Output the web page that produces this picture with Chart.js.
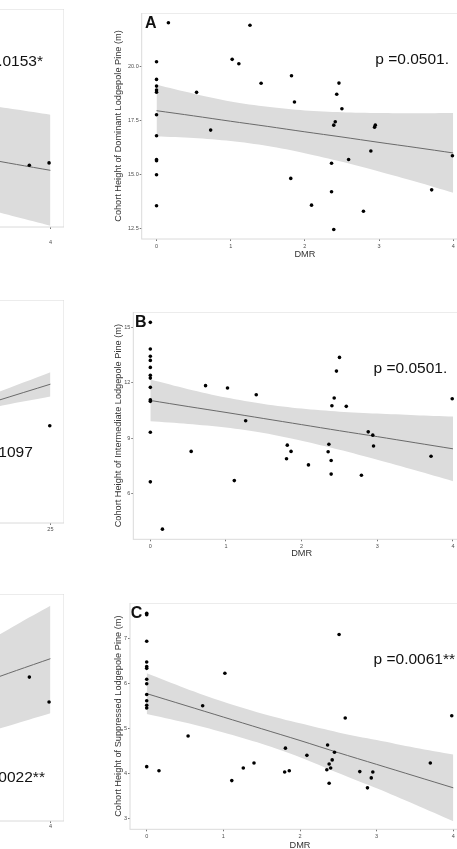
<!DOCTYPE html>
<html>
<head>
<meta charset="utf-8">
<script src="https://cdn.jsdelivr.net/npm/chart.js@4.4.1/dist/chart.umd.min.js"></script>
<style>
  html, body { margin: 0; padding: 0; background: #fff; }
  body { position: relative; width: 457px; height: 849px; overflow: hidden; }
  .panel { position: absolute; }
  .panel canvas { display: block; }
</style>
</head>
<body>
<div class="panel" id="p-lt"><canvas></canvas></div>
<div class="panel" id="p-lm"><canvas></canvas></div>
<div class="panel" id="p-lb"><canvas></canvas></div>
<div class="panel" id="p-a"><canvas></canvas></div>
<div class="panel" id="p-b"><canvas></canvas></div>
<div class="panel" id="p-c"><canvas></canvas></div>
<script>
// ---- data ----
const dmrTicks = [0, 1, 2, 3, 4];
const fitX = [0, 0.5, 1, 1.5, 2, 2.5, 3, 3.5, 4];

// A: dominant cohort
const dmrA = [0.16, 1.26, 0, 1.02, 1.11, 0, 0, 0, 0, 0.54, 1.41, 1.82, 1.86, 2.46, 2.43, 2.50, 2.41, 2.39, 0, 0.73,
  2.95, 2.94, 0, 2.89, 2.59, 3.99, 0, 0, 2.36, 0, 1.81, 2.36, 2.09, 0, 3.71, 2.79, 2.39];
const heightA = [22.04, 21.92, 20.23, 20.34, 20.14, 19.41, 19.10, 18.92, 18.82, 18.81, 19.23, 19.58, 18.36, 19.24, 18.72, 18.05, 17.45, 17.29, 17.77, 17.06,
  17.29, 17.19, 16.80, 16.09, 15.70, 15.87, 15.70, 15.64, 15.52, 14.99, 14.82, 14.20, 13.58, 13.55, 14.29, 13.30, 12.45];
const fitA   = [17.96, 17.72, 17.47, 17.23, 16.98, 16.74, 16.49, 16.25, 16.00];
const upperA = [19.16, 18.75, 18.39, 18.14, 17.97, 17.89, 17.85, 17.84, 17.85];
const lowerA = [16.76, 16.69, 16.55, 16.32, 15.99, 15.59, 15.14, 14.66, 14.15];
const yTicksA = [12.5, 15, 17.5, 20];

// B: intermediate cohort
const dmrB = [0, 0, 0, 0, 0, 0, 0, 0, 0, 0, 0, 0, 0.16, 0.73, 0.54, 1.02, 1.11, 1.26, 1.40, 1.81,
  1.86, 1.80, 2.09, 2.36, 2.35, 2.39, 2.39, 2.40, 2.43, 2.46, 2.50, 2.59, 2.79, 2.88, 2.94, 2.95, 3.71, 3.99];
const heightB = [15.27, 13.83, 13.43, 13.21, 12.83, 12.40, 12.25, 11.75, 11.08, 10.99, 9.32, 6.63, 4.07, 11.84, 8.28, 11.71, 6.70, 9.94, 11.35, 8.62,
  8.28, 7.88, 7.55, 8.67, 8.26, 7.79, 7.05, 10.75, 11.17, 12.63, 13.37, 10.72, 6.99, 9.34, 9.16, 8.57, 8.02, 11.13];
const fitB   = [11.04, 10.71, 10.39, 10.06, 9.73, 9.40, 9.08, 8.75, 8.42];
const upperB = [12.17, 11.65, 11.20, 10.85, 10.60, 10.43, 10.33, 10.24, 10.17];
const lowerB = [9.91, 9.77, 9.58, 9.28, 8.86, 8.37, 7.83, 7.26, 6.67];
const yTicksB = [6, 9, 12, 15];

// C: suppressed cohort
const dmrC = [0, 0, 0, 0, 0, 0, 0, 0, 0, 0, 0, 0, 0, 0.16, 0.54, 0.73, 1.02, 1.11, 1.26, 1.40,
  1.80, 1.81, 1.86, 2.09, 2.35, 2.36, 2.38, 2.38, 2.40, 2.42, 2.45, 2.51, 2.59, 2.78, 2.88, 2.95, 2.93, 3.70, 3.98];
const heightC = [7.55, 7.52, 6.93, 6.47, 6.37, 6.33, 6.09, 5.99, 5.75, 5.61, 5.51, 5.45, 4.15, 4.06, 4.83, 5.50, 6.22, 3.84, 4.12, 4.23,
  4.03, 4.56, 4.06, 4.40, 4.08, 4.63, 4.21, 3.78, 4.12, 4.30, 4.47, 7.08, 5.23, 4.04, 3.68, 4.03, 3.90, 4.23, 5.28];
const fitC   = [5.77, 5.51, 5.25, 4.99, 4.73, 4.46, 4.20, 3.94, 3.68];
const upperC = [6.22, 5.89, 5.59, 5.33, 5.11, 4.91, 4.74, 4.57, 4.42];
const lowerC = [5.32, 5.13, 4.91, 4.66, 4.36, 4.01, 3.67, 3.31, 2.94];
const yTicksC = [3, 4, 5, 6, 7];

// left column: only the right edge is in the picture (y in relative units)
const ltX = [3.69, 3.98], ltY = [28.3, 29.4];
const ltFitX = [2.5, 3, 3.5, 4];
const ltFit = [34.2, 31.5, 28.7, 26.0], ltUpper = [58.5, 56.2, 53.9, 51.5], ltLower = [12.6, 8.6, 4.6, 0.6];
const lmX = [24.94], lmY = [43.6];
const lmFitX = [15, 20, 25];
const lmFit = [47.2, 54.7, 62.25], lmUpper = [49.0, 58.3, 67.6], lmLower = [45.0, 52.0, 56.7];
const lmTicks = [0, 5, 10, 15, 20, 25];
const lbX = [3.69, 3.98], lbY = [63.4, 52.4];
const lbFitX = [2.5, 3, 3.5, 4];
const lbFit = [55.8, 61.0, 66.3, 71.5], lbUpper = [70.0, 78.0, 86.5, 94.8], lbLower = [34.0, 38.5, 43.0, 47.5];

// ---- drawing ----
const FONT = '"Liberation Sans", Arial, Helvetica, sans-serif';
Chart.defaults.font.family = FONT;

const pts = (xs, ys) => xs.map((x, i) => ({ x, y: ys[i] }));

const framePlugin = {
  id: 'frame',
  beforeDatasetsDraw(chart) {
    const { ctx, chartArea: a } = chart;
    ctx.save();
    ctx.strokeStyle = '#dadada';
    ctx.lineWidth = 1;
    ctx.strokeRect(a.left, a.top, a.right - a.left, a.bottom - a.top);
    ctx.restore();
  },
  afterDatasetsDraw(chart, args, opts) {
    const { ctx, chartArea: a, scales } = chart;
    ctx.save();
    ctx.fillStyle = '#111';
    if (opts.letter) {
      ctx.font = 'bold 16px ' + FONT;
      ctx.textBaseline = 'alphabetic';
      ctx.fillText(opts.letter, a.left + opts.letterDx, a.top + 15.3);
    }
    ctx.font = '15.5px ' + FONT;
    ctx.textBaseline = 'middle';
    ctx.fillText(opts.pText, scales.x.getPixelForValue(opts.pAt[0]), scales.y.getPixelForValue(opts.pAt[1]));
    ctx.restore();
  }
};

function makePanel(id, c) {
  const box = document.getElementById(id);
  box.style.left = c.box[0] + 'px';
  box.style.top = c.box[1] + 'px';
  const canvas = box.querySelector('canvas');
  canvas.width = c.box[2];
  canvas.height = c.box[3];

  new Chart(canvas, {
    type: 'scatter',
    data: {
      datasets: [
        { data: pts(c.px, c.py), pointRadius: 1.8, pointBackgroundColor: '#000', pointBorderWidth: 0 },
        { type: 'line', data: pts(c.fx, c.fit), borderColor: '#6a6a6a', borderWidth: 1, pointRadius: 0, tension: 0.3 },
        { type: 'line', data: pts(c.fx, c.up), borderWidth: 0, borderColor: 'rgba(0,0,0,0)', pointRadius: 0,
          fill: '+1', backgroundColor: '#dcdcdc', tension: 0.3 },
        { type: 'line', data: pts(c.fx, c.lo), borderWidth: 0, borderColor: 'rgba(0,0,0,0)', pointRadius: 0, tension: 0.3 }
      ]
    },
    options: {
      responsive: false,
      animation: false,
      layout: { padding: 0, autoPadding: false },
      plugins: {
        legend: { display: false },
        tooltip: { enabled: false },
        frame: { letter: c.letter, letterDx: c.letterDx || 0, pText: c.pText, pAt: c.pAt }
      },
      scales: {
        x: {
          type: 'linear', min: c.xr[0], max: c.xr[1],
          afterBuildTicks: s => { s.ticks = c.xt.map(v => ({ value: v })); },
          afterFit: s => { s.height = c.xH; s.paddingLeft = s.paddingRight = 0; },
          ticks: { font: { size: 5.5 }, color: '#4d4d4d', padding: c.xPad, autoSkip: false, maxRotation: 0,
                   callback: v => String(v) },
          grid: { drawOnChartArea: false, drawTicks: true, tickLength: 2, tickColor: '#777' },
          border: { display: false },
          title: { display: true, text: 'DMR', font: { size: 9.2 }, color: '#333', padding: 0 }
        },
        y: {
          type: 'linear', min: c.yr[0], max: c.yr[1],
          afterBuildTicks: s => { s.ticks = c.yt.map(v => ({ value: v })); },
          afterFit: s => { s.width = c.yW; s.paddingTop = s.paddingBottom = 0; },
          ticks: { display: c.yt.length > 0, font: { size: 5.5 }, color: '#4d4d4d', padding: 1, autoSkip: false,
                   callback: c.yFmt },
          grid: { drawOnChartArea: false, drawTicks: c.yt.length > 0, tickLength: 2, tickColor: '#777' },
          border: { display: false },
          title: { display: !!c.yTitle, text: c.yTitle || '', font: { size: 9.2 }, color: '#333', padding: 0 }
        }
      }
    },
    plugins: [framePlugin]
  });
}

const intFmt = v => String(v);

makePanel('p-lt', {
  box: [-265, 9, 329, 248], yW: 30.1, xH: 30, xPad: 10, xr: [-0.2, 4.2], yr: [0, 100], xt: dmrTicks, yt: [],
  px: ltX, py: ltY, fx: ltFitX, fit: ltFit, up: ltUpper, lo: ltLower,
  pText: 'p =0.0153*', pAt: [2.78, 75.8]
});
makePanel('p-lm', {
  box: [-265, 300, 329, 244], yW: 30.1, xH: 21, xPad: 1, xr: [-1.25, 26.25], yr: [0, 100], xt: lmTicks, yt: [],
  px: lmX, py: lmY, fx: lmFitX, fit: lmFit, up: lmUpper, lo: lmLower,
  pText: 'p =0.1097', pAt: [17.0, 31.3]
});
makePanel('p-lb', {
  box: [-265, 594, 329, 248], yW: 30.1, xH: 21, xPad: 0.5, xr: [-0.2, 4.2], yr: [0, 100], xt: dmrTicks, yt: [],
  px: lbX, py: lbY, fx: lbFitX, fit: lbFit, up: lbUpper, lo: lbLower,
  pText: 'p =0.0022**', pAt: [2.72, 19.0]
});
makePanel('p-a', {
  box: [113, 13, 355, 247], yW: 28.7, xH: 21, xPad: 2, xr: [-0.2, 4.2], yr: [12.01, 22.49], xt: dmrTicks, yt: yTicksA,
  yFmt: v => v.toFixed(1), yTitle: 'Cohort Height of Dominant Lodgepole Pine (m)',
  px: dmrA, py: heightA, fx: fitX, fit: fitA, up: upperA, lo: lowerA,
  letter: 'A', letterDx: 3.3, pText: 'p =0.0501.', pAt: [2.95, 20.31]
});
makePanel('p-b', {
  box: [113, 312, 357, 247], yW: 20.3, xH: 19.7, xPad: 2, xr: [-0.225, 4.225], yr: [3.52, 15.83], xt: dmrTicks, yt: yTicksB,
  yFmt: intFmt, yTitle: 'Cohort Height of Intermediate Lodgepole Pine (m)',
  px: dmrB, py: heightB, fx: fitX, fit: fitB, up: upperB, lo: lowerB,
  letter: 'B', letterDx: 1.7, pText: 'p =0.0501.', pAt: [2.95, 12.74]
});
makePanel('p-c', {
  box: [113, 603, 357, 248], yW: 17, xH: 21.7, xPad: 2, xr: [-0.218, 4.218], yr: [2.76, 7.78], xt: dmrTicks, yt: yTicksC,
  yFmt: intFmt, yTitle: 'Cohort Height of Suppressed Lodgepole Pine (m)',
  px: dmrC, py: heightC, fx: fitX, fit: fitC, up: upperC, lo: lowerC,
  letter: 'C', letterDx: 0.7, pText: 'p =0.0061**', pAt: [2.96, 6.53]
});
</script>
</body>
</html>
